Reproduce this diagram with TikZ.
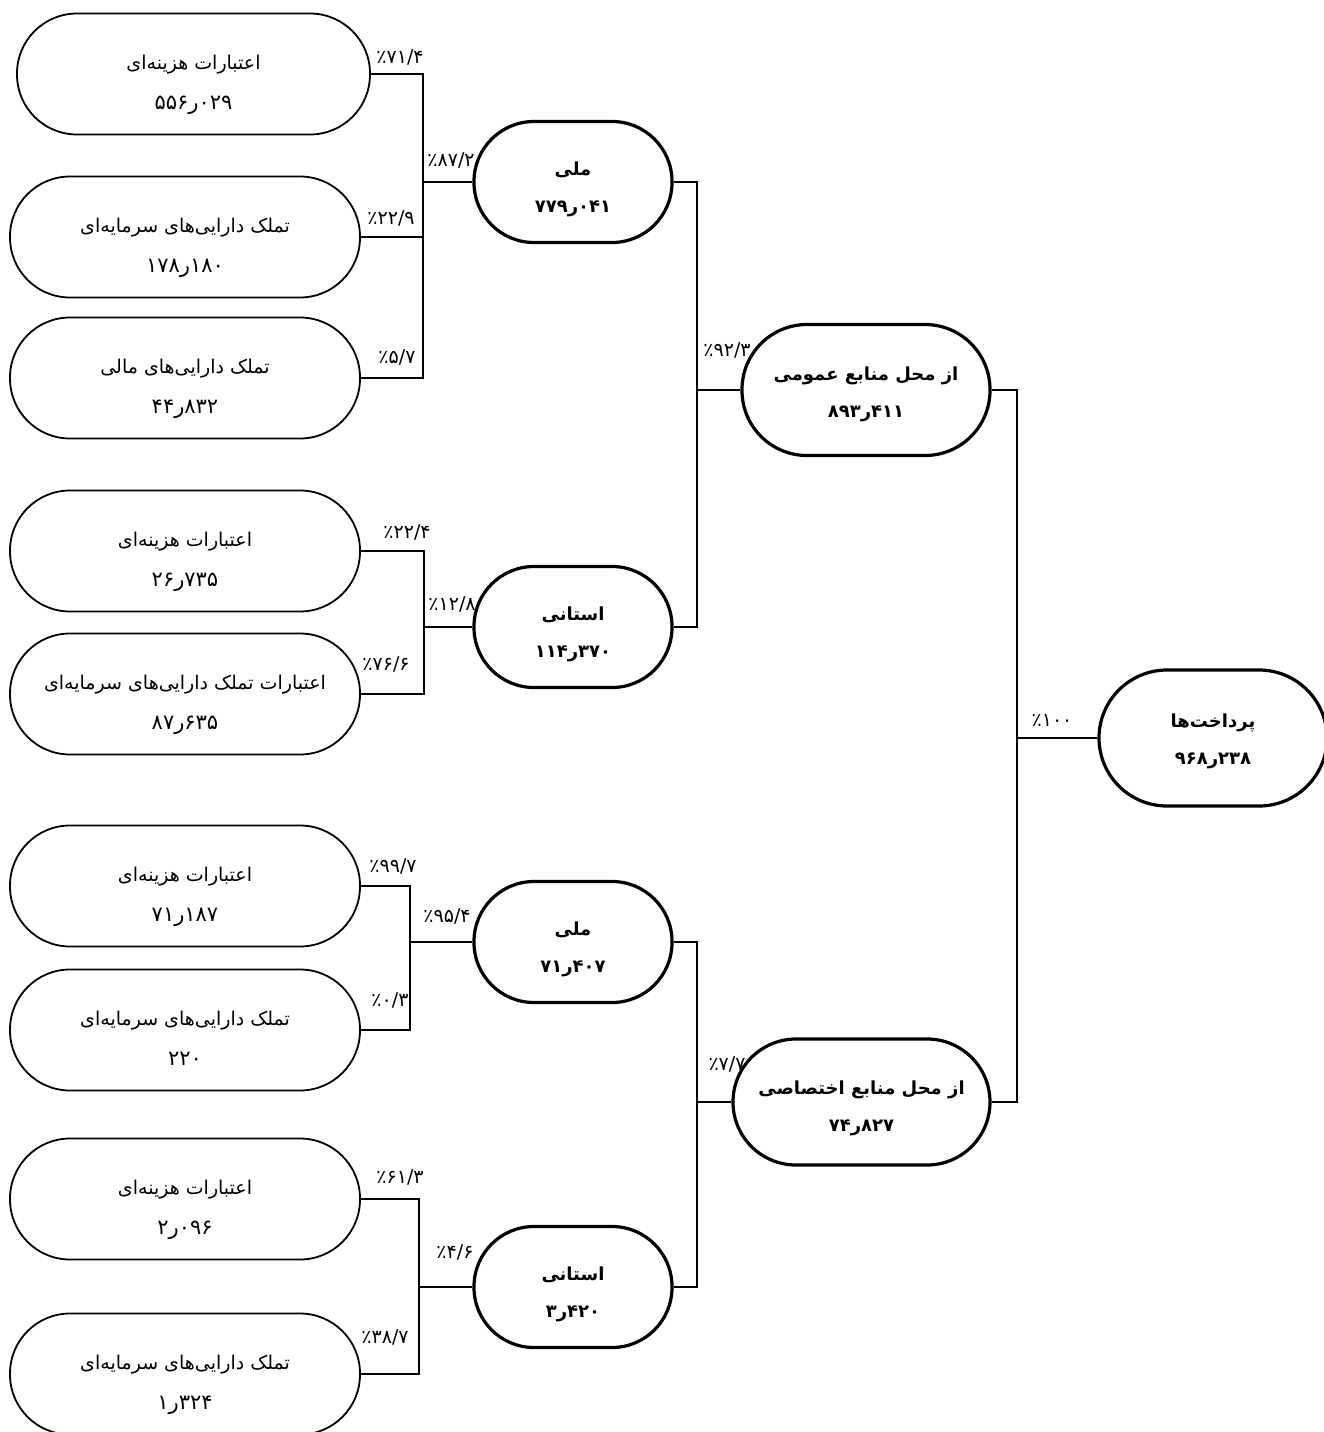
\documentclass[tikz,border=0pt]{standalone}
\usepackage{fontspec}
\newfontfamily\fa[Script=Arabic]{DejaVu Sans}
\TeXXeTstate=1
\newcommand\leaffont{\fa\fontsize{19}{40}\selectfont}
\newcommand\numfont{\fontsize{21}{40}\selectfont}
\newcommand\midfont{\fa\bfseries\fontsize{18}{37}\selectfont}
\newcommand\pctfont{\fa\fontsize{19}{20}\selectfont}
\newcommand\fnum[2]{\mbox{#1}\mbox{ر}\mbox{#2}}
\newcommand\pct[2]{\mbox{٪}\mbox{#1/#2}}
\newcommand\twol[3][7pt]{\raisebox{-#1}[\height][\depth]{\begin{tabular}{@{}c@{}}\beginR #2\endR\\#3\end{tabular}}}

\begin{document}
\begin{tikzpicture}[x=1pt,y=-1pt,
  leaf/.style={draw,line width=1.8pt,rounded corners=60pt,minimum width=350pt,minimum height=121pt,font=\leaffont},
  subtot/.style={leaf,line width=3.2pt,minimum width=198pt,font=\midfont},
  conn/.style={line width=1.8pt},
  pc/.style={font=\pctfont,inner sep=0pt}]
\useasboundingbox (0,0) rectangle (1324,1432);

\node[leaf,minimum width=353pt] (a1) at (193.5,74) {\twol{اعتبارات هزینه^^^^200cای}{\numfont\fnum{۵۵۶}{۰۲۹}}};
\node[leaf] (a2) at (185,237) {\twol{تملک دارایی^^^^200cهای سرمایه^^^^200cای}{\numfont\fnum{۱۷۸}{۱۸۰}}};
\node[leaf] (a3) at (185,378) {\twol{تملک دارایی^^^^200cهای مالی}{\numfont\fnum{۴۴}{۸۳۲}}};
\node[leaf] (b1) at (185,551) {\twol{اعتبارات هزینه^^^^200cای}{\numfont\fnum{۲۶}{۷۳۵}}};
\node[leaf] (b2) at (185,694) {\twol{اعتبارات تملک دارایی^^^^200cهای سرمایه^^^^200cای}{\numfont\fnum{۸۷}{۶۳۵}}};
\node[leaf] (c1) at (185,886) {\twol{اعتبارات هزینه^^^^200cای}{\numfont\fnum{۷۱}{۱۸۷}}};
\node[leaf] (c2) at (185,1030) {\twol{تملک دارایی^^^^200cهای سرمایه^^^^200cای}{\numfont ۲۲۰}};
\node[leaf] (d1) at (185,1199) {\twol{اعتبارات هزینه^^^^200cای}{\numfont\fnum{۲}{۰۹۶}}};
\node[leaf] (d2) at (185,1374) {\twol{تملک دارایی^^^^200cهای سرمایه^^^^200cای}{\numfont\fnum{۱}{۳۲۴}}};

\node[subtot] (m1) at (573,182) {\twol[5pt]{ملی}{\fnum{۷۷۹}{۰۴۱}}};
\node[subtot] (s1) at (573,627) {\twol[5pt]{استانی}{\fnum{۱۱۴}{۳۷۰}}};
\node[subtot] (m2) at (573,942) {\twol[5pt]{ملی}{\fnum{۷۱}{۴۰۷}}};
\node[subtot] (s2) at (573,1287) {\twol[5pt]{استانی}{\fnum{۳}{۴۲۰}}};
\node[subtot,minimum width=248pt,minimum height=131pt,rounded corners=65pt] (g1) at (866,390) {\twol[2pt]{از محل منابع عمومی}{\fnum{۸۹۳}{۴۱۱}}};
\node[subtot,minimum width=257pt,minimum height=126pt,rounded corners=63pt] (g2) at (861.5,1102) {\twol[4pt]{از محل منابع اختصاصی}{\fnum{۷۴}{۸۲۷}}};
\node[subtot,minimum width=228pt,minimum height=136pt,rounded corners=68pt] (r) at (1213,738) {\twol[1pt]{پرداخت^^^^200cها}{\fnum{۹۶۸}{۲۳۸}}};

\coordinate (ja) at (423,182);
\coordinate (jb) at (424,627);
\coordinate (jc) at (410,942);
\coordinate (jd) at (419,1287);
\coordinate (jg1) at (697,390);
\coordinate (jg2) at (697,1102);
\coordinate (jr) at (1017,738);

\foreach \j/\m/\ls in {ja/m1/{a1,a2,a3},jb/s1/{b1,b2},jc/m2/{c1,c2},jd/s2/{d1,d2},jg1/g1/{m1,s1},jg2/g2/{m2,s2},jr/r/{g1,g2}}{
  \draw[conn] (\j) -- (\m.west);
  \foreach \l in \ls \draw[conn] (\l.east) -| (\j);
}

\foreach \n/\x/\y/\i/\f in {a1/400/57/۷۱/۴,a2/391/218/۲۲/۹,a3/397/357/۵/۷,m1/451/160/۸۷/۲,
  b1/407/532/۲۲/۴,b2/386/664/۷۶/۶,s1/452/604/۱۲/۸,c1/393/866/۹۹/۷,c2/390/1000/۰/۳,
  m2/447/916/۹۵/۴,d1/400/1177/۶۱/۳,d2/385/1337/۳۸/۷,s2/455/1252/۴/۶,g1/727/350/۹۲/۳,g2/727/1064/۷/۷}
  \node[pc] (p\n) at (\x,\y) {\pct{\i}{\f}};
\node[pc] (pr) at (1052,720) {\mbox{٪}\mbox{۱۰۰}};
\end{tikzpicture}
\end{document}
